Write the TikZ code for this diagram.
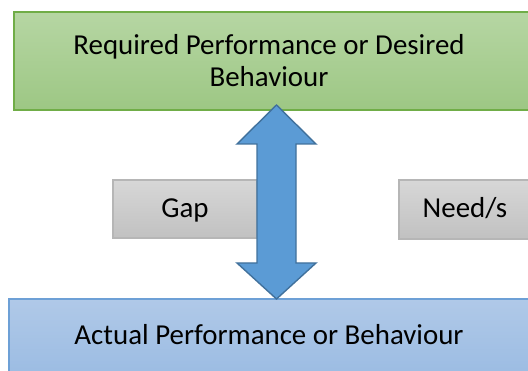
\documentclass[tikz,border=0pt]{standalone}
\usepackage{fontspec}
\setmainfont{Carlito}
\definecolor{grtop}{RGB}{182,214,163}
\definecolor{grbot}{RGB}{157,199,132}
\definecolor{grline}{RGB}{112,173,71}
\definecolor{bltop}{RGB}{176,201,232}
\definecolor{blbot}{RGB}{149,184,225}
\definecolor{blline}{RGB}{109,160,214}
\definecolor{gytop}{RGB}{215,215,215}
\definecolor{gybot}{RGB}{193,193,193}
\definecolor{gyline}{RGB}{182,182,182}
\definecolor{arfill}{RGB}{91,155,213}
\definecolor{arline}{RGB}{65,113,156}
\begin{document}
\begin{tikzpicture}[x=1pt,y=-1pt,
  box/.style={rectangle,inner sep=0pt,line width=1.6pt},
  greenbox/.style={box,draw=grline,top color=grtop,bottom color=grbot},
  bluebox/.style={box,draw=blline,top color=bltop,bottom color=blbot},
  greybox/.style={box,line width=1.2pt,draw=gyline,top color=gytop,bottom color=gybot},
  lbl/.style={inner sep=0pt,font=\fontsize{28.9}{33}\selectfont,text=black},
  gaparrow/.style={fill=arfill,draw=arline,line width=1.4pt,line join=miter}]
\useasboundingbox (0,0) rectangle (528,371);
\clip (0,0) rectangle (528,371);
% the two performance levels
\node[greenbox,minimum width=546pt,minimum height=98pt] (req) at (287,61) {};
\node[bluebox,minimum width=551pt,minimum height=100pt] (act) at (284.5,349) {};
% side labels
\node[greybox,minimum width=144pt,minimum height=58pt] (gap) at (185,209) {};
\node[greybox,minimum width=161pt,minimum height=59pt] (need) at (479.5,209.5) {};
% texts
\node[lbl,anchor=base] (reqtext) at (269,55) {Required Performance or Desired};
\node[lbl,anchor=base] (reqtext2) at (269,87) {Behaviour};
\node[lbl,anchor=base] (acttext) at (269,345) {Actual Performance or Behaviour};
\node[lbl,anchor=base] (gaptext) at (185,218) {Gap};
\node[lbl,anchor=base] (needtext) at (465,218) {Need/s};
% double arrow spanning the gap between the levels
\draw[gaparrow] (276.5,105) -- (316,144) -- (296,144) -- (296,263) -- (316,263)
  -- (276.5,299) -- (237,263) -- (257,263) -- (257,144) -- (237,144) -- cycle;
\end{tikzpicture}
\end{document}
